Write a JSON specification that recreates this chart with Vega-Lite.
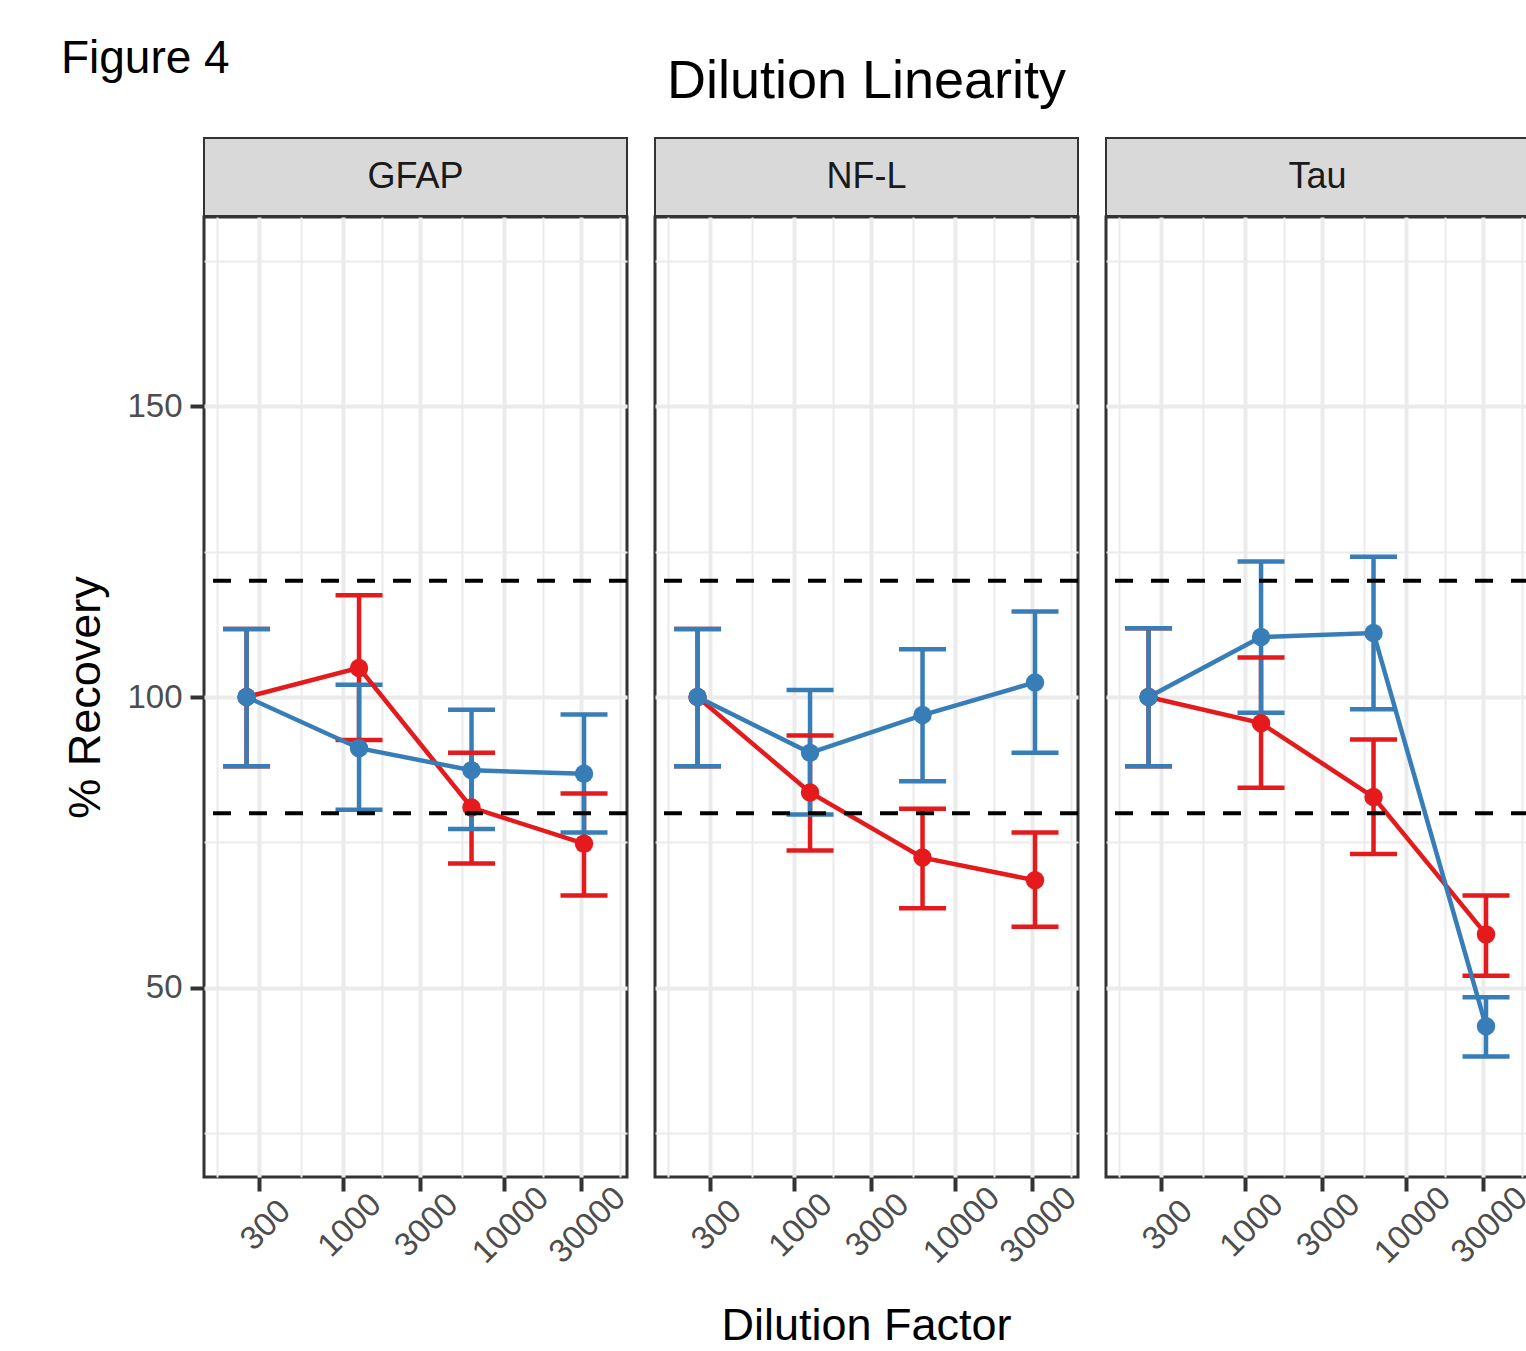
{
  "$schema": "https://vega.github.io/schema/vega-lite/v6.json",
  "padding": {"left": 60, "top": 36, "right": 0, "bottom": 0},
  "background": "white",
  "config": {
    "font": "Liberation Sans, Arial, sans-serif",
    "view": {"stroke": null}
  },
  "title": {"text": "Figure 4", "anchor": "start", "frame": "bounds", "dx": -3, "fontSize": 46, "fontWeight": "normal", "color": "#000000", "offset": -28},
  "data": {
    "values": [
      {"sample": "Sample 1", "panel": "GFAP", "dilution": 250, "recovery": 100.0, "lo": 88.1, "hi": 111.7},
      {"sample": "Sample 1", "panel": "GFAP", "dilution": 1250, "recovery": 105.0, "lo": 92.6, "hi": 117.5},
      {"sample": "Sample 1", "panel": "GFAP", "dilution": 6250, "recovery": 81.0, "lo": 71.4, "hi": 90.4},
      {"sample": "Sample 1", "panel": "GFAP", "dilution": 31250, "recovery": 74.8, "lo": 65.9, "hi": 83.4},
      {"sample": "Sample 1", "panel": "NF-L", "dilution": 250, "recovery": 100.0, "lo": 88.1, "hi": 111.7},
      {"sample": "Sample 1", "panel": "NF-L", "dilution": 1250, "recovery": 83.6, "lo": 73.6, "hi": 93.4},
      {"sample": "Sample 1", "panel": "NF-L", "dilution": 6250, "recovery": 72.4, "lo": 63.7, "hi": 80.8},
      {"sample": "Sample 1", "panel": "NF-L", "dilution": 31250, "recovery": 68.5, "lo": 60.5, "hi": 76.7},
      {"sample": "Sample 1", "panel": "Tau", "dilution": 250, "recovery": 100.0, "lo": 88.1, "hi": 111.8},
      {"sample": "Sample 1", "panel": "Tau", "dilution": 1250, "recovery": 95.5, "lo": 84.4, "hi": 106.8},
      {"sample": "Sample 1", "panel": "Tau", "dilution": 6250, "recovery": 82.8, "lo": 73.0, "hi": 92.7},
      {"sample": "Sample 1", "panel": "Tau", "dilution": 31250, "recovery": 59.2, "lo": 52.1, "hi": 65.9},
      {"sample": "Sample 2", "panel": "GFAP", "dilution": 250, "recovery": 100.0, "lo": 88.1, "hi": 111.7},
      {"sample": "Sample 2", "panel": "GFAP", "dilution": 1250, "recovery": 91.2, "lo": 80.6, "hi": 102.1},
      {"sample": "Sample 2", "panel": "GFAP", "dilution": 6250, "recovery": 87.4, "lo": 77.3, "hi": 97.8},
      {"sample": "Sample 2", "panel": "GFAP", "dilution": 31250, "recovery": 86.8, "lo": 76.7, "hi": 97.0},
      {"sample": "Sample 2", "panel": "NF-L", "dilution": 250, "recovery": 100.0, "lo": 88.1, "hi": 111.7},
      {"sample": "Sample 2", "panel": "NF-L", "dilution": 1250, "recovery": 90.4, "lo": 79.8, "hi": 101.2},
      {"sample": "Sample 2", "panel": "NF-L", "dilution": 6250, "recovery": 96.9, "lo": 85.5, "hi": 108.2},
      {"sample": "Sample 2", "panel": "NF-L", "dilution": 31250, "recovery": 102.5, "lo": 90.4, "hi": 114.7},
      {"sample": "Sample 2", "panel": "Tau", "dilution": 250, "recovery": 100.0, "lo": 88.1, "hi": 111.8},
      {"sample": "Sample 2", "panel": "Tau", "dilution": 1250, "recovery": 110.3, "lo": 97.3, "hi": 123.3},
      {"sample": "Sample 2", "panel": "Tau", "dilution": 6250, "recovery": 111.0, "lo": 97.9, "hi": 124.1},
      {"sample": "Sample 2", "panel": "Tau", "dilution": 31250, "recovery": 43.4, "lo": 38.2, "hi": 48.4}
    ]
  },
  "spacing": -2,
  "vconcat": [
    {
      "title": {"text": "Dilution Linearity", "anchor": "middle", "frame": "group", "dx": 662.5, "fontSize": 54, "fontWeight": "normal", "color": "#000000", "offset": 28},
      "transform": [{"aggregate": [{"op": "count", "as": "n"}], "groupby": ["panel"]}],
      "facet": {"column": {"field": "panel", "type": "nominal", "header": null}},
      "spacing": 28,
      "bounds": "flush",
      "spec": {
        "width": 423,
        "height": 78,
        "view": {"fill": "#D9D9D9", "stroke": "#333333", "strokeWidth": 2},
        "mark": {"type": "text", "fontSize": 36, "color": "#1A1A1A"},
        "encoding": {"text": {"field": "panel", "type": "nominal"}}
      }
    },
    {
      "title": {"text": "Dilution Factor", "orient": "bottom", "anchor": "middle", "frame": "group", "dx": 662.5, "fontSize": 45, "fontWeight": "normal", "color": "#000000", "offset": 35},
      "facet": {"column": {"field": "panel", "type": "nominal", "header": null}},
      "spacing": 28,
      "bounds": "flush",
      "spec": {
        "width": 423,
        "height": 960,
        "view": {"fill": "white", "stroke": "#333333", "strokeWidth": 3},
        "resolve": {"axis": {"x": "independent", "y": "independent"}},
        "layer": [
          {
            "mark": {"type": "rule", "strokeWidth": 4.5},
            "encoding": {
              "x": {"field": "dilution", "type": "quantitative",
                "scale": {"type": "log", "domain": [136, 57800], "nice": false},
                "axis": {"orient": "bottom", "values": [300, 1000, 3000, 10000, 30000], "format": "d", "labelAngle": -45, "labelAlign": "center", "labelBaseline": "middle", "labelPadding": 34, "labelOffset": 6, "labelFontSize": 33, "labelColor": "#4D4D4D", "labelOverlap": false, "labelFlush": false, "labelBound": false, "tickColor": "#333333", "tickSize": 14, "tickWidth": 4, "domain": false, "grid": true, "gridColor": "#EBEBEB", "gridWidth": 4, "title": null}},
              "y": {"field": "lo", "type": "quantitative",
                "scale": {"domain": [17.5, 182.5], "nice": false, "zero": false},
                "axis": {"orient": "left", "values": [50, 100, 150], "labelFontSize": 33, "labelColor": "#4D4D4D", "labelPadding": 8, "tickColor": "#333333", "tickSize": 14, "tickWidth": 4, "domain": false, "grid": true, "gridColor": "#EBEBEB", "gridWidth": 4, "title": "% Recovery", "titleFontSize": 45, "titleFontWeight": "normal", "titleColor": "#000000", "titlePadding": 18}},
              "y2": {"field": "hi"},
              "color": {"field": "sample", "type": "nominal", "scale": {"domain": ["Sample 1", "Sample 2"], "range": ["#E41A1C", "#377EB8"]}, "legend": null}
            }
          },
          {
            "mark": {"type": "tick", "orient": "horizontal", "size": 47, "thickness": 4.5, "opacity": 1},
            "encoding": {
              "x": {"field": "dilution", "type": "quantitative",
                "axis": {"orient": "bottom", "values": [164.1, 547.7, 1732, 5477, 17321, 51962], "labels": false, "ticks": false, "domain": false, "grid": true, "gridColor": "#EBEBEB", "gridWidth": 2, "title": null, "minExtent": 0, "maxExtent": 0}},
              "y": {"field": "hi", "type": "quantitative",
                "axis": {"orient": "left", "values": [25, 75, 125, 175], "labels": false, "ticks": false, "domain": false, "grid": true, "gridColor": "#EBEBEB", "gridWidth": 2, "title": null, "minExtent": 0, "maxExtent": 0}},
              "color": {"field": "sample", "type": "nominal", "legend": null}
            }
          },
          {
            "mark": {"type": "tick", "orient": "horizontal", "size": 47, "thickness": 4.5, "opacity": 1},
            "encoding": {
              "x": {"field": "dilution", "type": "quantitative", "axis": null},
              "y": {"field": "lo", "type": "quantitative", "axis": null},
              "color": {"field": "sample", "type": "nominal", "legend": null}
            }
          },
          {
            "mark": {"type": "line", "strokeWidth": 4.5},
            "encoding": {
              "x": {"field": "dilution", "type": "quantitative", "axis": null},
              "y": {"field": "recovery", "type": "quantitative", "axis": null},
              "color": {"field": "sample", "type": "nominal", "legend": null}
            }
          },
          {
            "mark": {"type": "point", "filled": true, "opacity": 1, "size": 340, "strokeWidth": 0},
            "encoding": {
              "x": {"field": "dilution", "type": "quantitative", "axis": null},
              "y": {"field": "recovery", "type": "quantitative", "axis": null},
              "color": {"field": "sample", "type": "nominal", "legend": null}
            }
          },
          {
            "transform": [{"aggregate": [{"op": "count", "as": "n"}], "groupby": ["panel"]}],
            "layer": [
              {"mark": {"type": "rule", "color": "#000000", "strokeWidth": 4, "strokeDash": [18, 18]}, "encoding": {"y": {"datum": 120, "type": "quantitative", "axis": null}}},
              {"mark": {"type": "rule", "color": "#000000", "strokeWidth": 4, "strokeDash": [18, 18]}, "encoding": {"y": {"datum": 80, "type": "quantitative", "axis": null}}}
            ]
          }
        ]
      }
    }
  ]
}
